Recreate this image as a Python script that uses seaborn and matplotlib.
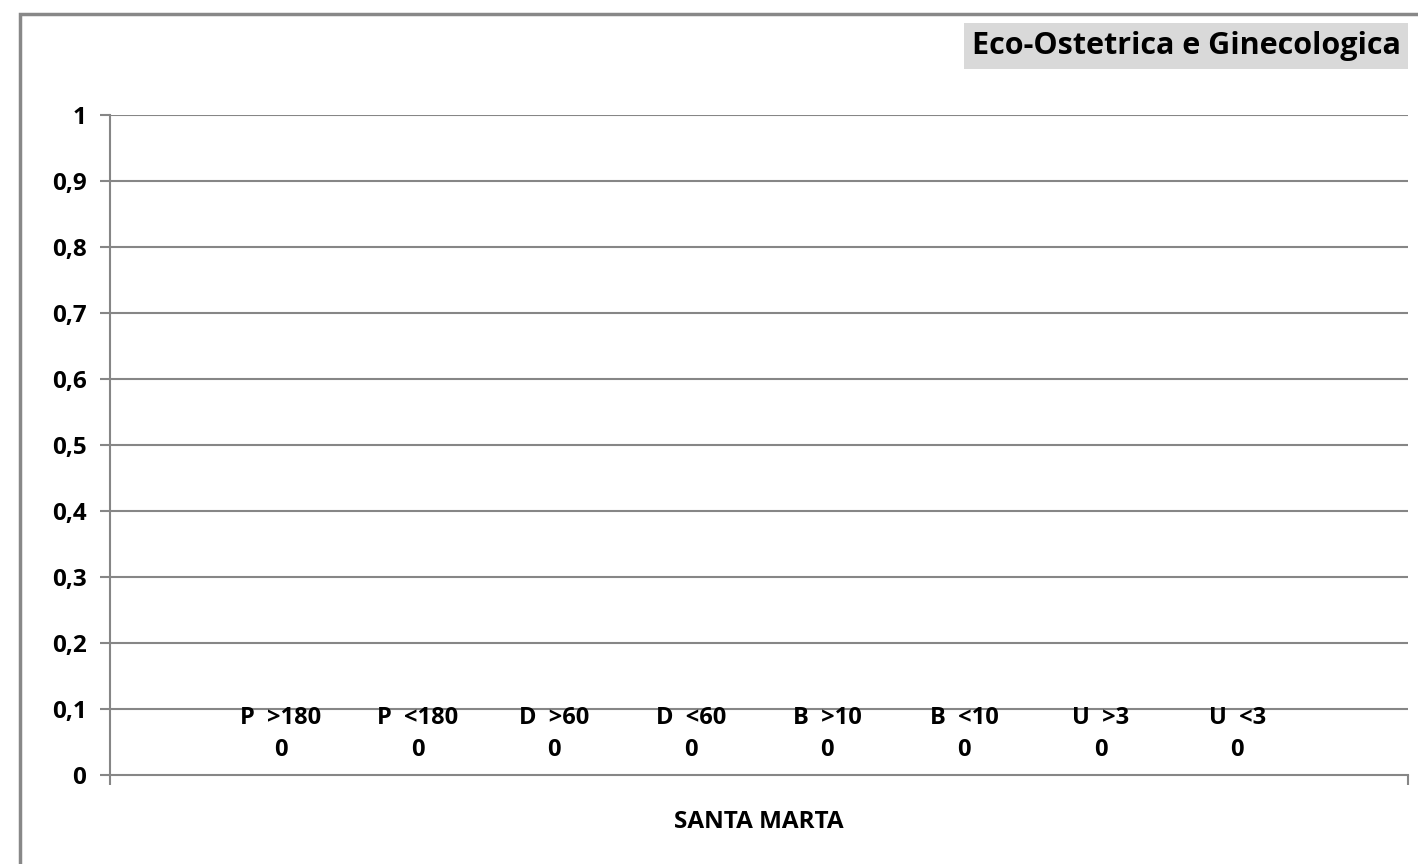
import matplotlib
matplotlib.use("Agg")
import matplotlib.pyplot as plt
import seaborn as sns
import pandas as pd
from matplotlib.patches import Rectangle
from matplotlib.ticker import FuncFormatter

category = ["SANTA MARTA"]
series = ["P  >180", "P  <180", "D  >60", "D  <60", "B  >10", "B  <10", "U  >3", "U  <3"]
values = [0, 0, 0, 0, 0, 0, 0, 0]
yticks = [0, 0.1, 0.2, 0.3, 0.4, 0.5, 0.6, 0.7, 0.8, 0.9, 1]
title = "Eco-Ostetrica e Ginecologica"

df = pd.DataFrame({"cat": category * len(series), "series": series, "value": values})

sns.set_theme(style="white")
plt.rcParams["font.family"] = ["Open Sans", "DejaVu Sans"]
plt.rcParams["text.color"] = "black"

fig = plt.figure(figsize=(14.18, 8.64), dpi=100)
ax = fig.add_axes([110 / 1418, 1 - 775 / 864, (1408 - 110) / 1418, (775 - 115) / 864])

palette = ["#4f81bd"] * len(series)
sns.barplot(data=df, x="cat", y="value", hue="series", hue_order=series,
            palette=palette, width=8 / 9.5, legend=False, ax=ax, errorbar=None)

ax.set_ylim(0, 1)
ax.set_yticks(yticks)
ax.yaxis.set_major_formatter(FuncFormatter(lambda v, p: ("%g" % round(v, 1)).replace(".", ",")))
ax.set_xlim(-0.5, 0.5)
ax.set_xticks([-0.5, 0.5])
ax.set_xticklabels(["", ""])

grid_c = "#868686"
for y in yticks[1:]:
    ax.axhline(y, color=grid_c, lw=1.5, zorder=0)
for s in ["top", "right"]:
    ax.spines[s].set_visible(False)
for s in ["left", "bottom"]:
    ax.spines[s].set_color(grid_c)
    ax.spines[s].set_linewidth(1.5)

ax.tick_params(axis="y", which="major", left=True, length=7, width=1.5, color=grid_c,
               labelsize=17.5, pad=10, labelcolor="black")
ax.tick_params(axis="x", which="major", bottom=True, length=7, width=1.5, color=grid_c,
               direction="out")
for lab in ax.get_yticklabels():
    lab.set_fontweight("bold")

# data labels
for patch, name, v in zip(ax.patches, series, values):
    cx = patch.get_x() + patch.get_width() / 2
    ax.annotate(f"{name}\n{v}", xy=(cx, v), xytext=(0, 9), textcoords="offset points",
                ha="center", va="bottom", fontsize=17, fontweight="bold",
                linespacing=1.45, color="black")

ax.set_xlabel("SANTA MARTA", fontsize=17.5, fontweight="bold", labelpad=15, color="black")
ax.set_ylabel("")

# title box
fig.text(1186 / 1418, 1 - 46 / 864, title, ha="center", va="center", fontsize=22,
         fontweight="bold", color="black",
         bbox=dict(boxstyle="square,pad=0.25", facecolor="#d9d9d9", edgecolor="none"))

# outer border
fig.patches.append(Rectangle((20 / 1418, -0.01), 1.05, 1 - 14 / 864 + 0.01,
                             transform=fig.transFigure, fill=False,
                             edgecolor="#888888", lw=2.5))

fig.savefig("out.png", dpi=100)
